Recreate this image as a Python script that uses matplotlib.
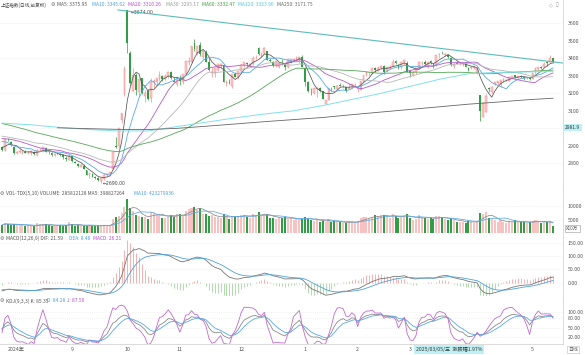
import numpy as np
import pandas as pd
import matplotlib
matplotlib.use("Agg")
import matplotlib.pyplot as plt

plt.rcParams['font.family'] = ['Noto Sans CJK SC', 'DejaVu Sans']

# ---- data (SSE composite, daily, 2024-07-30 .. 2025-05-15) ----
holidays = ['2024-09-16', '2024-09-17', '2024-10-01', '2024-10-02', '2024-10-03',
            '2024-10-04', '2024-10-07', '2025-01-01', '2025-01-28', '2025-01-29',
            '2025-01-30', '2025-01-31', '2025-02-03', '2025-02-04', '2025-04-04',
            '2025-05-01', '2025-05-02', '2025-05-05']

# closes before the visible range (May 6 - Jul 29 2024), only used for the averages
prior_closes = [3140, 3147, 3128, 3154, 3154, 3148, 3145, 3119, 3122, 3154,
                3171, 3157, 3158, 3116, 3088, 3124, 3109, 3111, 3091, 3086,
                3078, 3091, 3065, 3048, 3051, 3028, 3037, 3028, 3032, 3015,
                3030, 3018, 3005, 2998, 2963, 2950, 2972, 2945, 2967,
                2994, 2997, 2982, 2957, 2949, 2922, 2959, 2939, 2970, 2971,
                2974, 2976, 2962, 2977, 2982, 2964, 2915, 2901, 2886, 2890, 2891]

opens = [2891, 2875,
         2934, 2921, 2891, 2857, 2866, 2862, 2866, 2858, 2857, 2865, 2849, 2874, 2879, 2890, 2862, 2858, 2847, 2855, 2855, 2846, 2831, 2822,
         2841, 2810, 2794, 2781, 2787, 2762, 2732, 2740, 2723, 2715, 2699, 2712, 2735, 2740, 2770, 2901, 2899, 3049, 3196,
         3674, 3433, 3214, 3307, 3210, 3288, 3184, 3213, 3173, 3264, 3262, 3283, 3298, 3280, 3297, 3321, 3271, 3256,
         3282, 3264, 3311, 3379, 3379, 3489, 3433, 3476, 3409, 3435, 3380, 3318, 3315, 3335, 3358, 3360, 3260, 3263, 3241, 3309, 3292,
         3326, 3363, 3373, 3357, 3368, 3402, 3460, 3414, 3429, 3440, 3391, 3381, 3362, 3351, 3370, 3370, 3352, 3390, 3390, 3393, 3393, 3409,
         3347, 3267, 3207, 3204, 3223, 3228, 3211, 3140, 3161, 3225, 3239, 3224, 3249, 3242, 3236, 3227, 3236, 3248,
         3225, 3221, 3267, 3304, 3319, 3316, 3342, 3330, 3346, 3356, 3325, 3346, 3357, 3382, 3361, 3348, 3378, 3375,
         3330, 3302, 3320, 3345, 3371, 3377, 3349, 3387, 3367, 3364, 3424, 3430, 3421, 3421, 3402, 3358, 3372, 3366, 3365, 3371, 3346,
         3346, 3346, 3318, 3193, 3067, 3096, 3229, 3206, 3255, 3258, 3253, 3270, 3276, 3273, 3288, 3303, 3290, 3298, 3292, 3285, 3288,
         3283, 3330, 3341, 3349, 3351, 3379, 3377, 3402]

highs = [2898, 2940,
         2946, 2925, 2896, 2872, 2880, 2871, 2876, 2868, 2869, 2870, 2882, 2888, 2895, 2895, 2868, 2866, 2862, 2866, 2858, 2852, 2842, 2853,
         2843, 2815, 2802, 2797, 2795, 2763, 2745, 2745, 2728, 2722, 2722, 2745, 2745, 2752, 2863, 2952, 3001, 3088, 3358,
         3674, 3440, 3346, 3317, 3290, 3290, 3218, 3225, 3290, 3279, 3286, 3328, 3306, 3312, 3323, 3330, 3294, 3297,
         3303, 3312, 3387, 3410, 3471, 3509, 3472, 3495, 3440, 3450, 3410, 3353, 3346, 3368, 3374, 3368, 3277, 3282, 3310, 3323, 3327,
         3366, 3379, 3377, 3372, 3413, 3420, 3462, 3433, 3462, 3444, 3404, 3384, 3384, 3378, 3395, 3373, 3394, 3397, 3399, 3415, 3408, 3417,
         3352, 3273, 3230, 3230, 3235, 3236, 3214, 3161, 3228, 3235, 3243, 3246, 3258, 3251, 3236, 3258, 3253, 3261,
         3240, 3271, 3306, 3325, 3324, 3346, 3352, 3357, 3363, 3361, 3352, 3360, 3394, 3391, 3367, 3380, 3390, 3382,
         3336, 3325, 3345, 3384, 3384, 3392, 3380, 3391, 3374, 3420, 3432, 3439, 3432, 3423, 3406, 3374, 3382, 3377, 3380, 3378, 3350,
         3356, 3356, 3352, 3193, 3150, 3196, 3236, 3239, 3263, 3268, 3277, 3285, 3282, 3295, 3300, 3306, 3300, 3305, 3294, 3293, 3292,
         3317, 3343, 3353, 3357, 3381, 3386, 3418, 3404]

lows = [2871, 2873,
        2927, 2897, 2856, 2853, 2858, 2852, 2857, 2852, 2850, 2848, 2844, 2870, 2872, 2864, 2852, 2843, 2841, 2848, 2840, 2827, 2815, 2820,
        2808, 2800, 2780, 2778, 2765, 2735, 2719, 2720, 2710, 2702, 2690, 2705, 2730, 2728, 2766, 2889, 2889, 3033, 3183,
        3432, 3254, 3213, 3191, 3179, 3198, 3153, 3163, 3152, 3229, 3245, 3271, 3272, 3275, 3288, 3283, 3262, 3244,
        3248, 3254, 3305, 3360, 3371, 3444, 3419, 3411, 3395, 3379, 3330, 3291, 3293, 3329, 3343, 3267, 3242, 3251, 3228, 3292, 3282,
        3317, 3348, 3356, 3352, 3359, 3395, 3421, 3405, 3423, 3388, 3380, 3351, 3353, 3347, 3364, 3332, 3344, 3374, 3383, 3392, 3376, 3350,
        3242, 3207, 3192, 3194, 3180, 3207, 3165, 3140, 3161, 3214, 3222, 3223, 3241, 3231, 3210, 3226, 3230, 3243,
        3210, 3221, 3262, 3298, 3299, 3312, 3320, 3329, 3339, 3310, 3322, 3341, 3354, 3367, 3341, 3340, 3362, 3320,
        3296, 3298, 3312, 3340, 3362, 3362, 3345, 3368, 3343, 3356, 3401, 3422, 3414, 3403, 3358, 3343, 3366, 3360, 3355, 3351, 3325,
        3338, 3341, 3311, 3041, 3067, 3092, 3210, 3201, 3249, 3250, 3237, 3265, 3268, 3270, 3285, 3285, 3286, 3287, 3276, 3279, 3275,
        3283, 3311, 3336, 3338, 3349, 3356, 3377, 3376]

closes = [2879, 2939,
          2932, 2905, 2861, 2867, 2870, 2870, 2862, 2858, 2868, 2851, 2877, 2879, 2894, 2867, 2857, 2849, 2854, 2856, 2848, 2837, 2823, 2842,
          2811, 2803, 2784, 2788, 2766, 2736, 2744, 2722, 2717, 2704, 2717, 2736, 2737, 2749, 2863, 2896, 3001, 3088, 3337,
          3490, 3259, 3302, 3218, 3284, 3201, 3203, 3169, 3262, 3268, 3286, 3303, 3280, 3300, 3322, 3286, 3266, 3280,
          3272, 3310, 3387, 3383, 3471, 3452, 3470, 3422, 3439, 3380, 3331, 3324, 3346, 3368, 3370, 3267, 3263, 3259, 3310, 3295, 3326,
          3364, 3379, 3365, 3369, 3404, 3402, 3422, 3433, 3461, 3392, 3386, 3361, 3382, 3371, 3368, 3352, 3394, 3394, 3398, 3400, 3407, 3352,
          3262, 3211, 3206, 3230, 3230, 3211, 3169, 3161, 3228, 3222, 3236, 3241, 3244, 3243, 3213, 3231, 3253, 3250,
          3229, 3270, 3303, 3322, 3319, 3346, 3333, 3347, 3355, 3324, 3352, 3351, 3380, 3374, 3347, 3380, 3388, 3321,
          3316, 3324, 3342, 3381, 3373, 3367, 3380, 3372, 3358, 3419, 3426, 3429, 3426, 3408, 3364, 3370, 3370, 3368, 3374, 3351, 3336,
          3348, 3350, 3342, 3097, 3145, 3186, 3224, 3238, 3263, 3268, 3276, 3281, 3277, 3292, 3300, 3296, 3297, 3295, 3288, 3287, 3279,
          3317, 3343, 3353, 3342, 3370, 3375, 3404, 3381]

# volume in units of 10万
volumes = [3200, 4000,
           3500, 3300, 3600, 3200, 3300, 3200, 3000, 2800, 2800, 2900, 3800, 3600, 3500, 3500, 3100, 3000, 2900, 3000, 3100, 3000, 3300, 4200,
           3500, 3000, 3100, 2900, 3000, 3000, 3100, 3000, 2900, 2900, 3000, 3400, 3000, 3200, 5200, 6200, 6500, 7300, 9700,
           12400, 9200, 8100, 6600, 6300, 6200, 5900, 5500, 7900, 7400, 7100, 6900, 5700, 5800, 6200, 6800, 6100, 7200,
           7000, 6300, 8000, 9000, 9300, 9400, 8600, 9200, 7200, 7000, 6400, 6600, 5900, 6000, 5700, 7000, 6300, 5300, 6500, 6100, 6500,
           6800, 6700, 6200, 5600, 7200, 6600, 7900, 6500, 6800, 7000, 5700, 5800, 5500, 5600, 5800, 5900, 5500, 5800, 4900, 5200, 5100, 5500,
           6100, 5300, 5100, 4500, 5500, 4400, 4700, 4300, 5200, 4400, 4500, 4200, 4300, 4000, 3900, 4600, 4300, 4100,
           4500, 5600, 6200, 6000, 5800, 6100, 6600, 6500, 6700, 6700, 6300, 5700, 7100, 6300, 5800, 6200, 6500, 7200,
           5700, 4900, 5200, 6700, 6100, 5700, 5200, 5700, 5400, 6300, 6300, 5700, 5200, 4900, 5800, 4900, 4400, 4200, 4400, 4100, 4700,
           4300, 4000, 4600, 7500, 7100, 7700, 5600, 5400, 5000, 4300, 4900, 4400, 4000, 4500, 4200, 4900, 4200, 4200, 4200, 4100, 4300,
           4600, 4900, 4490, 3900, 4500, 4200, 4482, 2858]

# long averages (trading-day index, value)
ma120_idx = [0, 10, 20, 30, 40, 50, 60, 70, 80, 90, 100, 110, 120, 130, 140, 150, 160, 170, 180, 189]
ma120_val = [3030, 3020, 3005, 2993, 2985, 2985, 3010, 3035, 3060, 3082, 3100, 3130, 3165, 3200, 3240, 3280, 3312, 3320, 3322, 3324]
ma250_idx = [19, 30, 40, 50, 60, 70, 80, 90, 100, 110, 120, 130, 140, 150, 160, 170, 180, 189]
ma250_val = [3003, 2998, 2994, 2993, 3000, 3012, 3025, 3038, 3050, 3062, 3078, 3093, 3108, 3123, 3138, 3150, 3163, 3172]

trend_idx = [39.8, 192.4]
trend_val = [3676, 3373]

# ---- build ----
dates = pd.bdate_range('2024-07-30', '2025-05-15', freq='C', holidays=holidays)
o = np.array(opens, float)
h = np.array(highs, float)
l = np.array(lows, float)
c = np.array(closes, float)
v = np.array(volumes, float)
n = len(c)
x = np.arange(n)
up = c >= o

all_close = pd.Series(prior_closes + closes, dtype=float)
npre = len(prior_closes)

def ma(k):
    return all_close.rolling(k).mean().iloc[npre:].to_numpy()

ema12 = all_close.ewm(span=12, adjust=False).mean()
ema26 = all_close.ewm(span=26, adjust=False).mean()
dif = (ema12 - ema26)
dea = dif.ewm(span=9, adjust=False).mean()
macd = 2 * (dif - dea)
dif, dea, macd = dif.iloc[npre:].to_numpy(), dea.iloc[npre:].to_numpy(), macd.iloc[npre:].to_numpy()

hh = pd.Series(h).rolling(9, min_periods=1).max().to_numpy()
ll = pd.Series(l).rolling(9, min_periods=1).min().to_numpy()
rsv = (c - ll) / (hh - ll) * 100
K = np.zeros(n)
D = np.zeros(n)
kp, dp = 50.0, 50.0
for i in range(n):
    kp = kp * 2 / 3 + rsv[i] / 3
    dp = dp * 2 / 3 + kp / 3
    K[i], D[i] = kp, dp
J = 3 * K - 2 * D

vma5 = pd.Series(v).rolling(5, min_periods=1).mean()
vma10 = pd.Series(v).rolling(10, min_periods=1).mean()

# ---- figure ----
W, H = 585, 355
fig = plt.figure(figsize=(W / 100, H / 100), dpi=100)
fig.patch.set_facecolor('white')

def axes_px(top, bottom):
    return fig.add_axes([0, 1 - bottom / H, 563 / W, (bottom - top) / H])

ax = axes_px(0, 187)
axv = axes_px(187, 233)
axm = axes_px(233, 296)
axk = axes_px(296, 344)

RED_FILL = '#fccaca'
RED_EDGE = '#ef8f8f'
GREEN = '#2f9e44'
grid = dict(color='#e4e4e4', lw=0.5, ls=(0, (1, 2)))

for a in (ax, axv, axm, axk):
    a.set_xlim(-0.70, 192.44)
    for s in ('top', 'left'):
        a.spines[s].set_visible(False)
    a.spines['bottom'].set_color('#d6d6d6')
    a.spines['right'].set_color('#d6d6d6')
    a.spines['bottom'].set_linewidth(0.6)
    a.spines['right'].set_linewidth(0.6)
    a.yaxis.tick_right()
    a.tick_params(axis='y', length=0, pad=3.5, labelsize=3.8, labelcolor='#555555')
    a.tick_params(axis='x', length=0, labelbottom=False)

# main price panel
ax.set_ylim(2665, 3733)
for g in (2800, 3000, 3200, 3400, 3600):
    ax.axhline(g, **grid, zorder=0)
ax.vlines(x[up], l[up], h[up], color=RED_EDGE, lw=0.5, zorder=2)
ax.vlines(x[~up], l[~up], h[~up], color=GREEN, lw=0.5, zorder=2)
body_lo = np.minimum(o, c)
body_h = np.maximum(np.abs(c - o), 1.2)
ax.bar(x[up], body_h[up], bottom=body_lo[up], width=0.62, color=RED_FILL,
       edgecolor=RED_EDGE, lw=0.35, zorder=3)
ax.bar(x[~up], body_h[~up], bottom=body_lo[~up], width=0.62, color=GREEN, lw=0, zorder=3)

ax.plot(x, ma(5), color='#555555', lw=0.55, zorder=4)
ax.plot(x, ma(10), color='#5aa9e6', lw=0.6, zorder=4)
ax.plot(x, ma(20), color='#b45cc8', lw=0.6, zorder=4)
ax.plot(x, ma(30), color='#b8b8b8', lw=0.6, zorder=4)
ax.plot(x, ma(60), color='#54a857', lw=0.6, zorder=4)
ax.plot(ma120_idx, ma120_val, color='#82e0ea', lw=0.7, zorder=4)
ax.plot(ma250_idx, ma250_val, color='#666666', lw=0.6, zorder=4)
ax.plot(trend_idx, trend_val, color='#5cbcb8', lw=0.8, zorder=5)

ax.set_yticks([2800, 2900, 3100, 3200, 3300, 3400, 3500, 3600])
ax.set_yticklabels(['2800', '2900', '3100', '3200', '3300', '3400', '3500', '3600'])

i_hi = int(np.argmax(h))
i_lo = int(np.argmin(l))
ax.text(i_hi + 1.0, h[i_hi] - 15, '←' + f'{h[i_hi]:.2f}', fontsize=3.3, color='#444444',
        va='center', ha='left', family=['DejaVu Sans'])
ax.text(i_lo + 0.6, l[i_lo] - 4, '←' + f'{l[i_lo]:.2f}', fontsize=3.3, color='#444444',
        va='center', ha='left', family=['DejaVu Sans'])

# volume panel
axv.set_ylim(450, 16540)
for g in (5000, 10000):
    axv.axhline(g, **grid, zorder=0)
axv.bar(x[up], v[up], width=0.7, color='#f9c2c2', lw=0)
axv.bar(x[~up], v[~up], width=0.7, color=GREEN, lw=0)
axv.plot(x, vma5, color='#8a8a8a', lw=0.55)
axv.plot(x, vma10, color='#5aa9e6', lw=0.55)
axv.set_yticks([5000, 10000])
axv.set_yticklabels(['5000', '10000'])

# MACD panel
axm.set_ylim(-50, 187)
for g in (0, 50, 100, 150):
    axm.axhline(g, **grid, zorder=0)
pos = macd >= 0
axm.vlines(x[pos], 0, macd[pos], color='#f3a3a3', lw=0.6)
axm.vlines(x[~pos], 0, macd[~pos], color='#a3d69d', lw=0.6)
axm.plot(x, dif, color='#777777', lw=0.6)
axm.plot(x, dea, color='#4aa3df', lw=0.6)
axm.set_yticks([0, 50, 100, 150])
axm.set_yticklabels(['0.00', '50.00', '100.00', '150.00'])

# KDJ panel
axk.set_ylim(-2.4, 151.2)
for g in (20, 50, 80, 100):
    axk.axhline(g, **grid, zorder=0)
axk.plot(x, K, color='#8a8a8a', lw=0.6)
axk.plot(x, D, color='#56a8e8', lw=0.6)
axk.plot(x, J, color='#c26ad2', lw=0.6)
axk.set_yticks([20, 50, 80, 100])
axk.set_yticklabels(['20.00', '50.00', '80.00', '100.00'])

# month labels on the bottom axis (April sits under the date box)
month_pos, month_lab = [], []
prev = None
for i, d in enumerate(dates):
    if d.month != prev and i > 0 and d.month != 4:
        month_pos.append(i)
        month_lab.append('2024年' if (d.year == 2024 and d.month == 8) else str(d.month))
    prev = d.month
axk.set_xticks(month_pos)
axk.set_xticklabels(month_lab)
axk.tick_params(axis='x', labelbottom=True, labelsize=3.8, labelcolor='#555555', pad=2)
for t in axk.get_xticklabels():
    if t.get_text() == '2024年':
        t.set_horizontalalignment('left')
        t.set_x(-0.5)

# ---- header texts ----
def ftext(px, py, s, color, size=3.5, **kw):
    fig.text(px / W, 1 - py / H, s, color=color, fontsize=size, va='center', ha='left', **kw)

ftext(1, 5, '上证指数(日线,前复权)', '#444444', size=3.3)
ftext(51, 5, '⚙', '#666666', family=['DejaVu Sans'])
ftext(57, 5, 'MA5: 3375.95', '#555555')
ftext(92, 5, 'MA10: 3345.62', '#4a9de0')
ftext(128, 5, 'MA20: 3316.26', '#b050c8')
ftext(166, 5, 'MA30: 3295.17', '#999999')
ftext(202, 5, 'MA60: 3332.47', '#3d9e3d')
ftext(238, 5, 'MA120: 3323.96', '#4cc9d8')
ftext(277, 5, 'MA250: 3171.75', '#666666')
ftext(549, 5, '◇', '#888888', family=['DejaVu Sans'])
ftext(556, 5, '▯', '#888888', family=['DejaVu Sans'])

ftext(0, 193, '⚙', '#666666', family=['DejaVu Sans'])
ftext(6, 193, 'VOL-TDX(5,10) VOLUME: 285812128 MA5: 398827264', '#555555')
ftext(134, 193, 'MA10: 423279936', '#4a9de0')

ftext(0, 238, '⚙', '#666666', family=['DejaVu Sans'])
ftext(6, 238, 'MACD(12,26,9) DIF: 21.59', '#555555')
ftext(69, 238, 'DEA: 8.48', '#4a9de0')
ftext(93, 238, 'MACD: 26.21', '#b050c8')

ftext(0, 301, '⚙', '#666666', family=['DejaVu Sans'])
ftext(6, 301, 'KDJ(9,3,3) K: 85.35', '#555555')
ftext(47, 301, 'D: 84.28', '#4a9de0')
ftext(67, 301, 'J: 87.50', '#b050c8')

box = dict(boxstyle='square,pad=0.3', fc='#bff0f3', ec='none')
ftext(565, 127.5, '2981.9', '#333333', bbox=box)
ftext(416, 349.5, '2025/03/05/三  涨跌幅1.97%', '#333333', size=3.7, bbox=box)
ftext(566, 228.5, 'X10万', '#555555', size=3.3,
      bbox=dict(boxstyle='square,pad=0.25', fc='white', ec='#999999', lw=0.4))
ftext(568, 349.5, '日线', '#555555',
      bbox=dict(boxstyle='square,pad=0.3', fc='white', ec='#bbbbbb', lw=0.4))

fig.savefig('out.png', dpi=100)
